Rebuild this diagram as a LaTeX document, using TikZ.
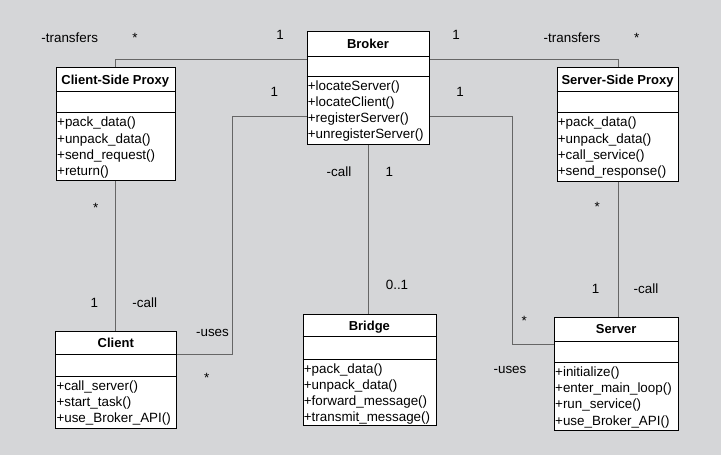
\documentclass[tikz,border=0pt]{standalone}
\usepackage{fontspec}
\setmainfont{Liberation Sans}
\definecolor{bgcol}{HTML}{D5D6D8}
\definecolor{conncol}{HTML}{666666}
\tikzset{
  classbox/.style={draw=black, fill=white, line width=0.8pt, inner sep=0pt, anchor=north west},
  sepline/.style={draw=black, line width=0.8pt},
  titletext/.style={font=\fontsize{13}{15}\selectfont\bfseries, inner sep=0pt, anchor=base},
  methtext/.style={font=\fontsize{13.4}{16}\selectfont, inner sep=0pt, anchor=base west},
  lbl/.style={font=\fontsize{13.4}{16}\selectfont, inner sep=0pt, anchor=base},
  conn/.style={draw=conncol, line width=0.8pt},
}
\newcommand\umlclass[9]{%
  \node[classbox, minimum width={(#4-#2)*1pt}, minimum height={(#5-#3)*1pt}] (#1) at (#2,#3) {};
  \draw[sepline] (#2,#6) -- (#4,#6);
  \draw[sepline] (#2,#7) -- (#4,#7);
  \node[titletext] (#1-title) at ({(#2+#4)/2},{(#3+#6)/2+5}) {#8};
  \foreach \m [count=\i] in {#9} {
    \node[methtext] (#1-m\i) at ({#2+1},{#7+14+(\i-1)*16.3}) {\m};
  }
}
\begin{document}
\begin{tikzpicture}[x=1pt,y=-1pt]
\fill[bgcol] (0,0) rectangle (721,455);
\useasboundingbox (0,0) rectangle (721,455);

% connectors first (under boxes)
\umlclass{broker}{306.7}{31}{429.3}{144}{56}{76}{Broker}{+locateServer(),+locateClient(),+registerServer(),+unregisterServer()}
\umlclass{csp}{56}{67.3}{174.6}{180}{91}{112.7}{Client-Side Proxy}{+pack\_data(),+unpack\_data(),+send\_request(),+return()}
\umlclass{ssp}{556.7}{67.3}{678.3}{180.7}{91}{112.7}{Server-Side Proxy}{+pack\_data(),+unpack\_data(),+call\_service(),+send\_response()}
\umlclass{client}{55.3}{330.7}{176.3}{427.7}{354.3}{376}{Client}{+call\_server(),+start\_task(),+use\_Broker\_API()}
\umlclass{bridge}{302.7}{314}{436}{425}{336.7}{359}{Bridge}{+pack\_data(),+unpack\_data(),+forward\_message(),+transmit\_message()}
\umlclass{server}{554}{316.7}{678.3}{430}{341}{362.3}{Server}{+initialize(),+enter\_main\_loop(),+run\_service(),+use\_Broker\_API()}

\draw[conn] (csp.north) |- ([yshift=-28.3pt]broker.north west);
\draw[conn] (ssp.north) |- ([yshift=-28.3pt]broker.north east);
\draw[conn] (csp.south) -- (csp.south |- client.north);
\draw[conn] ([yshift=-23.6pt]client.north east) -- ++(55.4,0) |- ([yshift=-85.7pt]broker.north west);
\draw[conn] (broker.south) -- (broker.south |- bridge.north);
\draw[conn] ([yshift=-85.7pt]broker.north east) -- ++(82.4,0) |- ([yshift=-27.6pt]server.north west);
\draw[conn] (ssp.south) -- (ssp.south |- server.north);

% labels
\node[lbl] (l1) at (69.7,42) {-transfers};
\node[lbl] (l2) at (135,42) {*};
\node[lbl] (l3) at (280,39) {1};
\node[lbl] (l4) at (456,39) {1};
\node[lbl] (l5) at (572,42) {-transfers};
\node[lbl] (l6) at (636.7,42) {*};
\node[lbl] (l7) at (274.3,96.5) {1};
\node[lbl] (l8) at (460,96.5) {1};
\node[lbl] (l9) at (339,176.5) {-call};
\node[lbl] (l10) at (389.3,176.5) {1};
\node[lbl] (l11) at (95.7,212) {*};
\node[lbl] (l12) at (94.3,307) {1};
\node[lbl] (l13) at (144.7,307) {-call};
\node[lbl] (l14) at (212.5,336) {-uses};
\node[lbl] (l15) at (206.7,382) {*};
\node[lbl] (l16) at (397,289) {0..1};
\node[lbl] (l17) at (524.3,325.5) {*};
\node[lbl] (l18) at (510,373) {-uses};
\node[lbl] (l19) at (597.3,211) {*};
\node[lbl] (l20) at (595.7,293) {1};
\node[lbl] (l21) at (646,293) {-call};
\end{tikzpicture}
\end{document}
